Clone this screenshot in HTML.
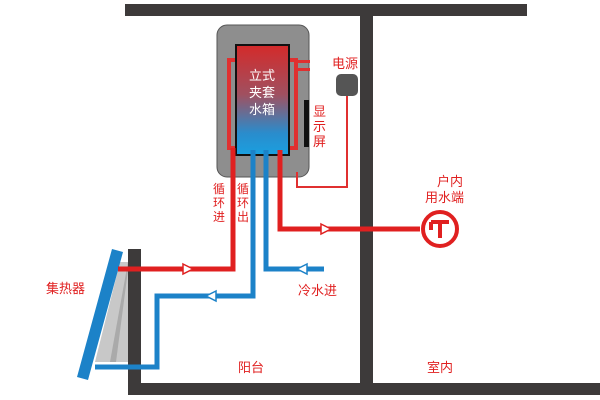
<!DOCTYPE html>
<html><head><meta charset="utf-8"><style>
body{margin:0;background:#fff;}
svg{display:block;font-family:"Liberation Sans","Noto Sans CJK SC",sans-serif;}
</style></head><body>
<svg width="600" height="400" viewBox="0 0 600 400">
<defs>
<linearGradient id="g" x1="0" y1="0" x2="0" y2="1">
<stop offset="0" stop-color="#d42a2a"/><stop offset="0.45" stop-color="#a05060"/><stop offset="0.8" stop-color="#2a8ccc"/><stop offset="1" stop-color="#1aa0e0"/></linearGradient>
</defs>
<!-- walls -->
<rect x="125" y="4" width="402" height="12" fill="#3d3a3a"/>
<rect x="360" y="4" width="13" height="382" fill="#3d3a3a"/>
<rect x="128" y="383" width="472" height="12" fill="#3d3a3a"/>
<rect x="128" y="249" width="13" height="146" fill="#3d3a3a"/>
<!-- solar frame -->
<polygon points="120,262 128,262 128,362 95,362" fill="#c8c8c8"/>
<polygon points="110,362 128,262 128,270 116,362" fill="#aaa"/>
<polygon points="112,249 123,252 88,380 77,377" fill="#1c82c8"/>
<!-- tank -->
<rect x="217" y="25" width="92" height="152" rx="10" fill="#8e8e8e" stroke="#555" stroke-width="1"/>
<rect x="229" y="60" width="67" height="88" fill="none" stroke="#e03030" stroke-width="4"/>
<rect x="236" y="45" width="53" height="110" fill="url(#g)" stroke="#111" stroke-width="2"/>
<text x="262" y="80" font-size="13" fill="#fff" text-anchor="middle">立式</text>
<text x="262" y="97" font-size="13" fill="#fff" text-anchor="middle">夹套</text>
<text x="262" y="114" font-size="13" fill="#fff" text-anchor="middle">水箱</text>
<rect x="296" y="60" width="14" height="3" fill="#e03030"/>
<rect x="296" y="68" width="14" height="3" fill="#e03030"/>
<rect x="304" y="100" width="5" height="47" fill="#111"/>
<!-- power -->
<rect x="336" y="74" width="22" height="22" rx="5" fill="#555"/>
<polyline points="347,96 347,187 297,187 297,172" fill="none" stroke="#e03030" stroke-width="2"/>
<text x="332" y="68" font-size="13" fill="#e02020">电源</text>
<text x="313" y="116" font-size="13" fill="#e02020">显</text>
<text x="313" y="131" font-size="13" fill="#e02020">示</text>
<text x="313" y="146" font-size="13" fill="#e02020">屏</text>
<!-- pipes -->
<polyline points="233,148 233,269 118,269" fill="none" stroke="#e02020" stroke-width="5"/>
<polyline points="280,150 280,229 420,229" fill="none" stroke="#e02020" stroke-width="5"/>
<polyline points="253,150 253,296 157,296 157,367 95,367" fill="none" stroke="#1c82c8" stroke-width="5"/>
<polyline points="266,150 266,269 324,269" fill="none" stroke="#1c82c8" stroke-width="5"/>
<!-- arrows -->
<polygon points="183,264 193,269 183,274" fill="#fff" stroke="#e02020" stroke-width="1.5"/>
<polygon points="321,224 331,229 321,234" fill="#fff" stroke="#e02020" stroke-width="1.5"/>
<polygon points="216,291 206,296 216,301" fill="#fff" stroke="#1c82c8" stroke-width="1.5"/>
<polygon points="307,264 297,269 307,274" fill="#fff" stroke="#1c82c8" stroke-width="1.5"/>
<!-- faucet -->
<circle cx="440" cy="229" r="17" fill="#fff" stroke="#e02020" stroke-width="4"/>
<path d="M431,222 H449 M440,222 V238 M431,222 V230" stroke="#e02020" stroke-width="4" fill="none"/>
<!-- labels -->
<text x="213" y="193" font-size="12" fill="#e02020">循</text>
<text x="213" y="207" font-size="12" fill="#e02020">环</text>
<text x="213" y="221" font-size="12" fill="#e02020">进</text>
<text x="237" y="193" font-size="12" fill="#e02020">循</text>
<text x="237" y="207" font-size="12" fill="#e02020">环</text>
<text x="237" y="221" font-size="12" fill="#e02020">出</text>
<text x="437" y="186" font-size="13" fill="#e02020">户内</text>
<text x="425" y="202" font-size="13" fill="#e02020">用水端</text>
<text x="298" y="295" font-size="13" fill="#e02020">冷水进</text>
<text x="46" y="293" font-size="13" fill="#e02020">集热器</text>
<text x="238" y="372" font-size="13" fill="#e02020">阳台</text>
<text x="427" y="372" font-size="13" fill="#e02020">室内</text>
</svg>
</body></html>
